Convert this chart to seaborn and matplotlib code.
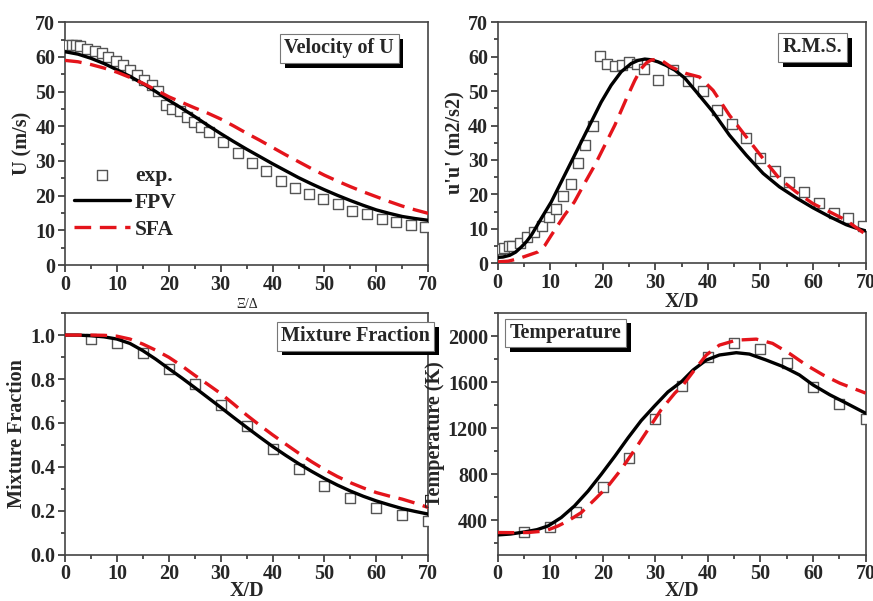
import numpy as np
import pandas as pd
import matplotlib
matplotlib.use("Agg")
import matplotlib.pyplot as plt
import matplotlib.patheffects as pe
from matplotlib.ticker import MultipleLocator
import seaborn as sns

sns.set_theme(style="ticks")
plt.rcParams['font.family'] = ['Liberation Serif', 'DejaVu Serif']
plt.rcParams['font.weight'] = 'bold'
plt.rcParams['axes.labelweight'] = 'bold'

# --- Velocity of U ---
u_exp_x = [0.6, 1.3, 2.2, 2.9, 4.3, 5.7, 7.1, 8.3, 9.8, 11.1, 12.5, 13.8, 15.3, 16.7, 18.0,
           19.5, 20.7, 22.2, 23.6, 24.9, 26.3, 27.7, 30.5, 33.3, 36.1, 38.8, 41.6, 44.3, 47.1,
           49.8, 52.7, 55.4, 58.2, 61.0, 63.8, 66.6, 69.4]
u_exp_y = [63.5, 63.5, 63.5, 63.1, 62.3, 61.6, 61.0, 60.0, 58.9, 57.7, 56.2, 54.9, 53.4, 51.8, 50.1,
           46.0, 45.1, 44.3, 42.6, 41.1, 39.7, 38.3, 35.5, 32.3, 29.5, 27.2, 24.1, 22.1, 20.5,
           18.9, 17.5, 15.7, 14.6, 13.4, 12.4, 11.5, 11.1]
u_x = [0, 2.5, 5, 7.5, 10, 12.5, 15, 17.5, 20, 22.5, 25, 27.5, 30, 32.5, 35, 37.5, 40,
       42.5, 45, 47.5, 50, 52.5, 55, 57.5, 60, 62.5, 65, 67.5, 70]
u_fpv = [61.5, 60.8, 59.6, 58.1, 56.3, 54.4, 52.3, 50.0, 47.5, 45.2, 42.8, 40.3, 37.9, 35.6,
         33.4, 31.3, 29.2, 27.2, 25.2, 23.4, 21.7, 20.1, 18.6, 17.2, 15.9, 14.9, 14.0, 13.4, 12.9]
u_sfa = [59.0, 58.6, 57.8, 56.8, 55.6, 54.1, 52.4, 50.5, 48.5, 46.9, 45.3, 43.8, 42.1, 40.1,
         38.0, 36.0, 33.9, 31.8, 29.8, 27.8, 25.9, 24.2, 22.6, 21.1, 19.7, 18.3, 17.0, 15.9, 14.9]

# --- R.M.S. ---
r_exp_x = [0.5, 1.3, 2.1, 2.8, 4.2, 5.6, 7.0, 8.4, 9.8, 11.1, 12.5, 13.9, 15.3, 16.7, 18.1,
           19.5, 20.9, 22.3, 23.7, 25.0, 26.5, 27.8, 30.6, 33.4, 36.2, 39.0, 41.7, 44.5, 47.2,
           50.0, 52.8, 55.5, 58.3, 61.1, 63.9, 66.7, 69.5]
r_exp_y = [4.1, 4.3, 5.0, 5.0, 5.8, 7.5, 9.0, 10.9, 13.4, 15.8, 19.6, 23.1, 29.2, 34.3, 39.9,
           60.2, 58.0, 57.4, 57.6, 58.4, 57.9, 56.5, 53.3, 56.0, 52.8, 50.0, 44.5, 40.5, 36.3,
           30.6, 26.9, 23.5, 20.8, 17.6, 14.7, 13.2, 10.8]
r_fpv_x = [0, 1.0, 2.3, 3.4, 4.5, 5.5, 6.4, 7.3, 8.3, 10.2, 12.1, 14.0, 15.9, 17.8, 19.7,
           21.6, 23.5, 25.4, 26.7, 28.0, 29.2, 30.5, 32.0, 33.7, 35.6, 37.8, 41.0, 44.1, 47.3,
           50.5, 53.6, 56.8, 60.0, 63.2, 66.3, 68.0, 70.0]
r_fpv_y = [1.7, 1.8, 2.3, 3.2, 4.7, 6.3, 8.1, 10.4, 13.0, 17.8, 23.6, 29.4, 35.2, 41.0, 46.8,
           51.7, 55.6, 58.0, 58.9, 59.3, 59.1, 58.5, 57.5, 56.1, 53.8, 49.8, 43.9, 37.2, 31.4,
           26.1, 22.2, 19.0, 16.1, 13.5, 11.2, 10.3, 9.4]
r_sfa_x = [0, 2.0, 3.9, 5.8, 7.7, 9.0, 10.2, 12.7, 14.6, 16.5, 18.5, 20.4, 22.3, 24.5, 26.1,
           27.3, 28.3, 29.2, 30.1, 31.1, 33.0, 35.9, 38.4, 41.0, 44.1, 47.3, 50.5, 53.6, 56.8,
           60.0, 63.2, 66.3, 68.0, 70.0]
r_sfa_y = [0.4, 0.6, 1.3, 2.3, 3.3, 5.2, 8.1, 13.9, 17.8, 23.1, 28.5, 34.3, 40.1, 47.8, 53.1,
           56.5, 58.2, 59.0, 59.2, 59.0, 57.0, 55.1, 54.1, 50.2, 43.0, 36.7, 30.4, 24.6, 20.7,
           17.3, 14.9, 12.5, 10.6, 8.4]

# --- Mixture Fraction ---
m_exp_x = [5, 10, 15, 20, 25, 30, 35, 40, 45, 50, 55, 60, 65, 70]
m_exp_y = [0.982, 0.962, 0.919, 0.845, 0.779, 0.680, 0.586, 0.481, 0.391, 0.311, 0.260, 0.211, 0.180, 0.155]
m_x = [0, 2.5, 5, 7.5, 10, 12.5, 15, 17.5, 20, 22.5, 25, 27.5, 30, 32.5, 35, 37.5, 40,
       42.5, 45, 47.5, 50, 52.5, 55, 57.5, 60, 62.5, 65, 67.5, 70]
m_fpv = [1.0, 1.0, 0.997, 0.992, 0.982, 0.962, 0.929, 0.890, 0.847, 0.805, 0.761, 0.716, 0.671,
         0.625, 0.580, 0.536, 0.493, 0.453, 0.415, 0.380, 0.347, 0.317, 0.290, 0.266, 0.245,
         0.227, 0.210, 0.197, 0.185]
m_sfa = [1.0, 1.0, 1.0, 0.999, 0.995, 0.982, 0.959, 0.931, 0.899, 0.860, 0.817, 0.776, 0.734,
         0.686, 0.636, 0.590, 0.546, 0.504, 0.463, 0.424, 0.388, 0.356, 0.328, 0.304, 0.283,
         0.267, 0.253, 0.235, 0.215]

# --- Temperature ---
t_exp_x = [5, 10, 15, 20, 25, 30, 35, 40, 45, 50, 55, 60, 65, 70]
t_exp_y = [299, 345, 475, 686, 939, 1276, 1570, 1821, 1942, 1890, 1766, 1559, 1412, 1279]
t_fpv_x = [0, 2.5, 5.1, 7.5, 9.6, 12.1, 14.6, 17.2, 19.7, 22.3, 24.8, 27.3, 29.9, 32.4, 35.0,
           37.2, 39.7, 42.2, 45.4, 47.9, 51.1, 54.3, 57.4, 60.0, 63.2, 66.3, 70.0]
t_fpv_y = [272, 280, 298, 318, 350, 423, 523, 653, 798, 956, 1115, 1265, 1395, 1515, 1605,
           1706, 1792, 1836, 1856, 1844, 1792, 1735, 1663, 1576, 1490, 1418, 1330]
t_sfa_x = [0, 3.0, 5.8, 8.0, 9.6, 11.5, 13.4, 15.9, 18.5, 21.0, 23.5, 26.1, 28.6, 31.1, 33.7,
           35.3, 37.2, 39.7, 42.2, 45.4, 49.2, 52.3, 55.5, 58.7, 61.9, 65.1, 70.0]
t_sfa_y = [293, 292, 293, 302, 316, 350, 394, 466, 581, 696, 841, 1014, 1187, 1360, 1504,
           1576, 1691, 1836, 1922, 1965, 1974, 1937, 1850, 1749, 1663, 1591, 1505]

red = '#e4141b'
dash = (0, (5, 2.6))

fig = plt.figure(figsize=(8.73, 6.01), dpi=100)
ax1 = fig.add_axes([0.0745, 0.559, 0.416, 0.404])
ax2 = fig.add_axes([0.570, 0.562, 0.4215, 0.401])
ax3 = fig.add_axes([0.0745, 0.077, 0.416, 0.402])
ax4 = fig.add_axes([0.570, 0.077, 0.4215, 0.402])


def draw(ax, ex, ey, fx, fy, sx, sy, leg=False):
    sns.scatterplot(x=ex, y=ey, ax=ax, marker='s', s=45, facecolor='white',
                    edgecolor='#555555', linewidth=1.0, label='exp.' if leg else None, zorder=3)
    sns.lineplot(x=fx, y=fy, ax=ax, color='black', lw=2.4, sort=False,
                 label='FPV' if leg else None, zorder=4)
    sns.lineplot(x=sx, y=sy, ax=ax, color=red, lw=2.4, linestyle=dash, sort=False,
                 label='SFA' if leg else None, zorder=5)


def style(ax, ylim, ymaj, ymin):
    ax.set_xlim(0, 70)
    ax.set_ylim(*ylim)
    ax.xaxis.set_major_locator(MultipleLocator(10))
    ax.xaxis.set_minor_locator(MultipleLocator(5))
    ax.yaxis.set_major_locator(MultipleLocator(ymaj))
    ax.yaxis.set_minor_locator(MultipleLocator(ymin))
    ax.tick_params(which='both', direction='out', top=False, right=False,
                   labelsize=14.5, width=1.2, color='#333333', pad=2)
    ax.tick_params(which='major', length=5)
    ax.tick_params(which='minor', length=3)
    for s in ax.spines.values():
        s.set_linewidth(1.2)
        s.set_color('#444444')
    for lab in ax.get_xticklabels() + ax.get_yticklabels():
        lab.set_fontweight('bold')


def title_box(ax, txt, x, y):
    t = ax.text(x, y, txt, transform=ax.transAxes, ha='center', va='center',
                fontsize=14.5, fontweight='bold', zorder=10,
                bbox=dict(boxstyle='square,pad=0.22', fc='white', ec='#777777', lw=0.8))
    t.get_bbox_patch().set_path_effects([
        pe.SimplePatchShadow(offset=(3.5, -3.5), shadow_rgbFace='black', alpha=1.0),
        pe.Normal()])


draw(ax1, u_exp_x, u_exp_y, u_x, u_fpv, u_x, u_sfa, leg=True)
style(ax1, (0, 70), 10, 5)
ax1.set_ylabel('U (m/s)', fontsize=14.5, labelpad=2)
ax1.set_xlabel('Ξ/Δ', fontsize=10, fontweight='normal', labelpad=2)
title_box(ax1, 'Velocity of U', 0.755, 0.893)
leg = ax1.legend(loc='upper left', bbox_to_anchor=(0.0, 0.445), frameon=False,
                 prop={'size': 15.5, 'weight': 'bold'}, handlelength=2.6,
                 handletextpad=0.25, labelspacing=0.32, borderaxespad=0)

draw(ax2, r_exp_x, r_exp_y, r_fpv_x, r_fpv_y, r_sfa_x, r_sfa_y)
style(ax2, (0, 70), 10, 5)
ax2.set_ylabel("u'u' (m2/s2)", fontsize=14.5, labelpad=2)
ax2.set_xlabel('X/D', fontsize=14.5, labelpad=-1)
title_box(ax2, 'R.M.S.', 0.856, 0.896)

draw(ax3, m_exp_x, m_exp_y, m_x, m_fpv, m_x, m_sfa)
style(ax3, (0, 1.1), 0.2, 0.1)
ax3.set_ylabel('Mixture Fraction', fontsize=14.5, labelpad=2)
ax3.set_xlabel('X/D', fontsize=14.5, labelpad=-2.5)
title_box(ax3, 'Mixture Fraction', 0.80, 0.905)

draw(ax4, t_exp_x, t_exp_y, t_fpv_x, t_fpv_y, t_sfa_x, t_sfa_y)
style(ax4, (100, 2200), 400, 200)
ax4.set_ylabel('Temperature (K)', fontsize=14.5, labelpad=2)
ax4.set_xlabel('X/D', fontsize=14.5, labelpad=-2.5)
title_box(ax4, 'Temperature', 0.185, 0.918)

for ax in (ax2, ax3, ax4):
    if ax.get_legend() is not None:
        ax.get_legend().remove()

fig.savefig('out.png', dpi=100, facecolor='white')
